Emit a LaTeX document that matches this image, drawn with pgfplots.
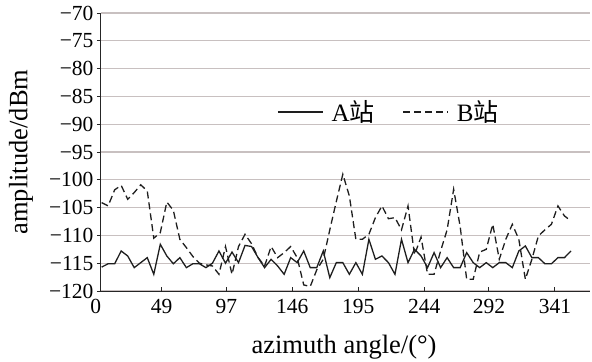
\documentclass[border=0pt]{standalone}
\usepackage{fontspec}
\setmainfont{Liberation Serif}
\newfontfamily\cjk{Noto Sans CJK SC}
\usepackage{pgfplots}
\pgfplotsset{compat=1.18}
\definecolor{gridc}{RGB}{200,192,192}
\definecolor{linec}{RGB}{30,30,30}

\begin{document}
\begin{tikzpicture}
\begin{axis}[
  width=489bp, height=278bp, scale only axis,
  xmin=3.93, xmax=367, ymin=-120, ymax=-70,
  axis x line*=bottom, axis y line*=left,
  axis line style={line width=1bp, black!85},
  xtick={49,97,146,195,244,292,341},
  ytick={-120,-115,...,-70},
  yticklabels={−120,−115,−110,−105,−100,−95,−90,−85,−80,−75,−70},
  xtick align=inside, ytick align=outside,
  major tick length=4bp,
  tick style={line width=1bp, black!85},
  ymajorgrids, grid style={line width=1.3bp, gridc},
  tick label style={font=\fontsize{21.5bp}{25bp}\selectfont},
  xticklabel style={yshift=-5bp},
  /pgf/number format/assume math mode=true,
  xlabel={azimuth angle/(°)}, ylabel={amplitude/dBm},
  label style={font=\fontsize{26.5bp}{32bp}\selectfont},
  xlabel style={at={(axis description cs:0.497,-0.2014)}, anchor=center},
  ylabel style={at={(axis description cs:-0.1636,0.5)}, anchor=center},
  clip=false,
  legend columns=2,
  legend image code/.code={\draw[#1] (0bp,0bp) -- (45bp,0bp);},
  legend style={at={(axis description cs:0.360,0.644)}, anchor=west,
    draw=none, fill=none, inner sep=0pt,
    font=\fontsize{25bp}{30bp}\selectfont,
    nodes={inner sep=0pt},
    /tikz/every even column/.append style={column sep=28bp},
    /tikz/every odd column/.append style={column sep=8bp}},
]
\addplot[linec, line width=1.3bp] coordinates {
(4.4,-115.7) (9.24,-115.1) (14.08,-115.1) (18.92,-112.8) (23.76,-113.7)
(28.6,-115.8) (33.44,-114.9) (38.28,-114.0) (43.12,-117.0) (47.96,-111.6)
(52.8,-113.7) (57.64,-115.1) (62.48,-114.0) (67.32,-115.8) (72.16,-115.1)
(77.0,-115.1) (81.84,-115.8) (86.68,-115.0) (91.52,-112.8) (96.36,-115.0)
(101.2,-113.0) (106.04,-114.9) (110.88,-111.8) (115.72,-112.0) (120.56,-114.0)
(125.4,-115.8) (130.24,-114.3) (135.08,-115.5) (139.92,-117.0) (144.76,-114.0)
(149.6,-114.9) (154.44,-112.8) (159.28,-115.8) (164.12,-115.8) (168.96,-112.8)
(173.8,-117.6) (178.64,-114.9) (183.48,-114.9) (188.32,-117.0) (193.16,-114.9)
(198.0,-117.0) (202.84,-110.7) (207.68,-114.3) (212.52,-113.7) (217.36,-114.9)
(222.2,-117.0) (227.04,-110.7) (231.88,-114.9) (236.72,-112.5) (241.56,-113.7)
(246.4,-115.8) (251.24,-113.1) (256.08,-115.8) (260.92,-114.0) (265.76,-115.8)
(270.6,-115.8) (275.44,-113.1) (280.28,-114.9) (285.12,-115.8) (289.96,-114.9)
(294.8,-115.8) (299.64,-114.9) (304.48,-114.9) (309.32,-115.8) (314.16,-112.8)
(319.0,-111.9) (323.84,-114.0) (328.68,-114.0) (333.52,-115.1) (338.36,-115.1)
(343.2,-114.0) (348.04,-114.0) (352.88,-112.8)
};
\addlegendentry{A{\cjk 站}}
\addplot[linec, line width=1.3bp, dash pattern=on 7bp off 4bp] coordinates {
(4.4,-104.1) (9.24,-104.7) (14.08,-101.8) (18.92,-101.0) (23.76,-103.5)
(28.6,-102.3) (33.44,-100.9) (38.28,-102.0) (43.12,-110.5) (47.96,-109.5)
(52.8,-104.0) (57.64,-105.5) (62.48,-110.7) (67.32,-112.2) (72.16,-113.8)
(77.0,-115.0) (81.84,-115.3) (86.68,-115.5) (91.52,-117.0) (96.36,-112.0)
(101.2,-117.0) (106.04,-112.0) (110.88,-109.8) (115.72,-111.5) (120.56,-114.0)
(125.4,-115.5) (130.24,-112.0) (135.08,-114.0) (139.92,-113.1) (144.76,-112.0)
(149.6,-114.0) (154.44,-118.9) (159.28,-119.2) (164.12,-116.2) (168.96,-114.3)
(173.8,-109.0) (178.64,-103.9) (183.48,-99.0) (188.32,-102.9) (193.16,-110.7)
(198.0,-110.7) (202.84,-109.8) (207.68,-106.8) (212.52,-104.7) (217.36,-107.0)
(222.2,-106.8) (227.04,-109.0) (231.88,-104.7) (236.72,-113.5) (241.56,-110.3)
(246.4,-117.0) (251.24,-117.0) (256.08,-112.8) (260.92,-109.0) (265.76,-101.7)
(270.6,-108.4) (275.44,-117.9) (280.28,-117.9) (285.12,-113.0) (289.96,-112.5)
(294.8,-108.0) (299.64,-114.3) (304.48,-110.7) (309.32,-108.0) (314.16,-110.7)
(319.0,-117.9) (323.84,-114.3) (328.68,-110.1) (333.52,-109.0) (338.36,-108.0)
(343.2,-104.7) (348.04,-106.5) (352.88,-107.4)
};
\addlegendentry{B{\cjk 站}}
\node[anchor=north, yshift=-5bp, font=\fontsize{21.5bp}{25bp}\selectfont] at (axis cs:0,-120) {0};
\end{axis}
\pgfresetboundingbox
\path[use as bounding box] (-101bp,-71bp) rectangle (491bp,291bp);
\end{tikzpicture}
\end{document}
